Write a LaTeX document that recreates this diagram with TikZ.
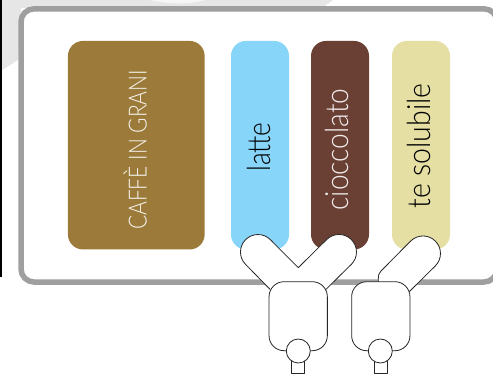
\documentclass[tikz,border=0pt]{standalone}
\usepackage{fontspec}
\usepackage{graphicx}
\newfontfamily\lbl{Lato Light}
\definecolor{panelgrey}{HTML}{9E9F9E}
\definecolor{bggrey}{HTML}{E6E6E6}
\definecolor{grani}{HTML}{9C7B3A}
\definecolor{lattec}{HTML}{87D5F9}
\definecolor{ciocc}{HTML}{6B4034}
\definecolor{teac}{HTML}{E5DFA3}
\tikzset{
  tank/.style={draw=none,rounded corners=15pt,inner sep=0pt,minimum height=208.5pt},
  tanklabel/.style={rotate=90,anchor=base,inner sep=0pt,font=\lbl\fontsize{32}{32}\selectfont},
  capslabel/.style={rotate=90,anchor=base,inner sep=0pt,font=\lbl\fontsize{25}{25}\selectfont},
  part/.style={draw=black!85,line width=0.8pt,fill=white,line join=round}
}
\begin{document}
\begin{tikzpicture}[x=1pt,y=-1pt]
\useasboundingbox (0,0) rectangle (493,373);
\clip (0,0) rectangle (493,373);
% background
\fill[white] (0,0) rectangle (493,373);
\fill[bggrey] (2,0) -- (333,0) -- (322,8) -- (21,8) -- (18,60) -- (2,70) -- cycle;
\fill[white!60!bggrey] (150,0) .. controls (165,4) and (190,5) .. (205,0) -- cycle;
\fill[black] (0,0) rectangle (2.3,277);
% panel
\draw[panelgrey,line width=5.5pt,fill=white,rounded corners=13pt] (21,8.8) rectangle (497,282);
% tanks
\node[tank,fill=grani,minimum width=136.7pt] (beans) at (136.3,145.2) {};
\node[tank,fill=lattec,minimum width=58pt] (milk) at (260,145.2) {};
\node[tank,fill=ciocc,minimum width=58pt] (choc) at (340,145.2) {};
\node[tank,fill=teac,minimum width=58pt] (tea) at (421,145.2) {};
\node[capslabel,text=white!90!grani] (beanslabel) at (146.7,150) {\scalebox{0.84}[1]{CAFFÈ IN GRANI}};
\node[tanklabel,text=black] (milklabel) at (270,147) {\scalebox{0.82}[1]{latte}};
\node[tanklabel,text=white!90!ciocc] (choclabel) at (348,149.5) {\scalebox{0.88}[1]{cioccolato}};
\node[tanklabel,text=black] (tealabel) at (430,146) {\scalebox{0.89}[1]{te solubile}};
% hoppers
\draw[part] (270,289.3) -- (245.6,264.4) arc[start angle=135,end angle=315,radius=17.5] -- (298.3,267.7) -- (326.6,239.6) arc[start angle=225,end angle=405,radius=17.5] -- (326,289.3);
\draw[part] (378.3,283) -- (378.3,279) .. controls (378.3,275) and (379,273) .. (381,271) -- (410.6,241.1) arc[start angle=225,end angle=405,radius=17.5] -- (409.3,291.7);
% mixers
\node[part,rounded corners=15pt,minimum width=58.3pt,minimum height=69pt,inner sep=0pt] (mixa) at (298.2,316.2) {};
\node[part,rounded corners=15pt,minimum width=58.3pt,minimum height=69pt,inner sep=0pt] (mixb) at (380.8,316.2) {};
% spouts
\node[part,minimum width=13pt,minimum height=14pt,inner sep=0pt] (spouta) at (298.2,366) {};
\node[part,minimum width=13pt,minimum height=14pt,inner sep=0pt] (spoutb) at (380.6,366) {};
\node[part,circle,minimum size=24pt,inner sep=0pt] (valvea) at (298.3,351) {};
\node[part,circle,minimum size=24pt,inner sep=0pt] (valveb) at (380.3,351) {};
\end{tikzpicture}
\end{document}
